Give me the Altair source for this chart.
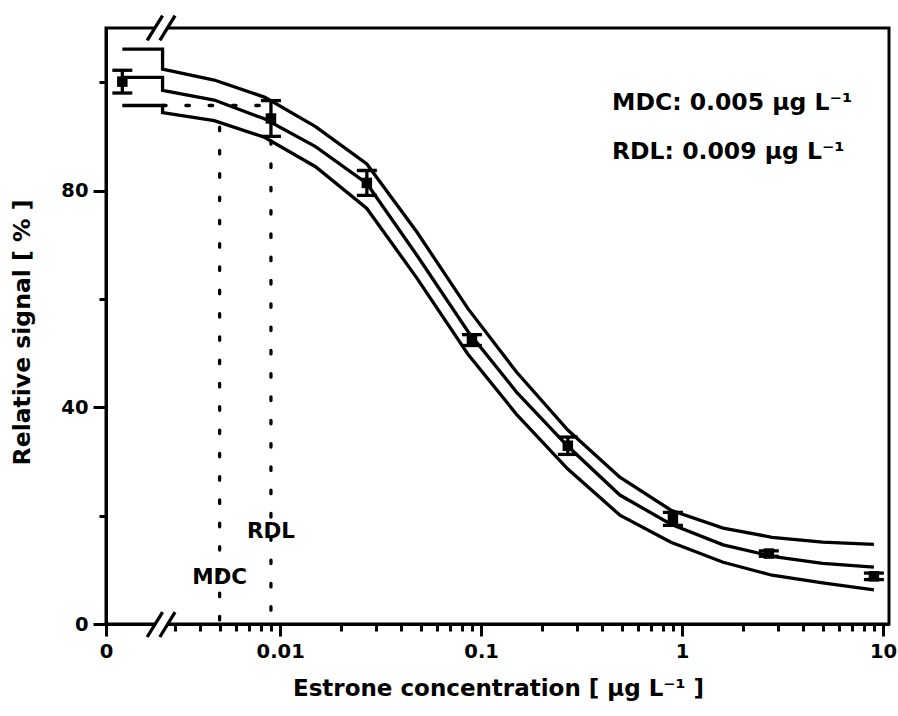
import altair as alt
import pandas as pd

# Calibration standards: estrone (µg/L), mean relative signal (%), standard deviation
std_conc = [0.0, 0.009, 0.027, 0.09, 0.27, 0.9, 2.7, 9.0]
std_signal = [100.1, 93.3, 81.4, 52.4, 32.9, 19.4, 13.0, 8.8]
std_sd = [2.1, 3.3, 2.3, 1.0, 1.6, 1.2, 0.5, 0.6]

# Fitted calibration curve with its upper and lower confidence band
fit_conc = [0.0026, 0.0047, 0.0084, 0.015, 0.027, 0.048, 0.086, 0.15,
            0.27, 0.49, 0.88, 1.6, 2.8, 5.0, 9.0]
fit_upper = [102.4, 100.4, 97.2, 91.8, 84.9, 72.3, 58.2, 46.5,
             35.8, 27.1, 21.0, 17.7, 16.0, 15.1, 14.7]
fit_mid = [98.5, 96.7, 93.2, 88.1, 81.3, 68.0, 54.0, 42.8,
           32.8, 23.8, 18.4, 14.6, 12.5, 11.2, 10.5]
fit_lower = [94.4, 92.9, 89.8, 84.4, 76.7, 63.8, 49.8, 38.7,
             28.6, 20.1, 15.1, 11.4, 9.0, 7.6, 6.3]
# Levels of the three curves for the blank (zero concentration)
blank_upper, blank_mid, blank_lower = 106.1, 100.9, 95.7

# Detection limits (µg/L) and the lower-band signal where their drop lines start
mdc, rdl = 0.005, 0.009
mdc_top, rdl_top = 91.7, 89.2

# Tick values
x_ticks_major = [0.01, 0.1, 1, 10]
x_ticks_minor = [0.003, 0.004, 0.005, 0.006, 0.007, 0.008, 0.009,
                 0.02, 0.03, 0.04, 0.05, 0.06, 0.07, 0.08, 0.09,
                 0.2, 0.3, 0.4, 0.5, 0.6, 0.7, 0.8, 0.9,
                 2, 3, 4, 5, 6, 7, 8, 9]
y_ticks_major = [0, 40, 80]
y_ticks_minor = [20, 60, 100]

# ---- broken log axis: the left end is labelled "0", the blank sits before the break
X_LO, X_HI = 0.00136, 10.7
BLANK_POS = 0.00164
FONT = "DejaVu Sans"
LW = 3.3

xs = alt.Scale(type="log", domain=[X_LO, X_HI], nice=False)
ys = alt.Scale(domain=[0, 110], nice=False, zero=False)

pts = pd.DataFrame({
    "pos": [BLANK_POS if c == 0 else c for c in std_conc],
    "signal": std_signal,
    "lo": [s - d for s, d in zip(std_signal, std_sd)],
    "hi": [s + d for s, d in zip(std_signal, std_sd)],
})

rows = []
for band, blank, vals in [("upper", blank_upper, fit_upper),
                          ("fit", blank_mid, fit_mid),
                          ("lower", blank_lower, fit_lower)]:
    rows.append({"band": band, "k": 0, "pos": BLANK_POS, "signal": blank})
    rows.append({"band": band, "k": 1, "pos": fit_conc[0], "signal": blank})
    for i, (c, v) in enumerate(zip(fit_conc, vals)):
        rows.append({"band": band, "k": i + 2, "pos": c, "signal": v})
curves = pd.DataFrame(rows)

dotted = pd.DataFrame({
    "x": [fit_conc[0], mdc, rdl],
    "x2": [rdl, mdc, rdl],
    "y": [blank_lower, mdc_top, rdl_top],
    "y2": [blank_lower, 0, 0],
})

labels = pd.DataFrame({"pos": [mdc, rdl], "signal": [8.5, 17.0], "text": ["MDC", "RDL"]})

# axis-break decorations (in axis units)
gaps = pd.DataFrame({"x": [0.00237, 0.00237], "x2": [0.00275, 0.00275], "y": [0, 110]})
slashes = pd.DataFrame({
    "x": [0.00218, 0.00252, 0.00218, 0.00252],
    "x2": [0.0026, 0.0030, 0.0026, 0.0030],
    "y": [-2.4, -2.4, 107.7, 107.7],
    "y2": [2.2, 2.2, 112.3, 112.3],
})

x_major_axis = alt.Axis(
    values=[X_LO] + x_ticks_major,
    labelExpr="datum.value < 0.005 ? '0' : format(datum.value, '~g')",
    orient="bottom", grid=False, tickSize=12, tickWidth=3, tickColor="black",
    domainColor="black", domainWidth=3, labelFont=FONT, labelFontWeight="bold",
    labelFontSize=19.5, labelColor="black", labelPadding=6, labelFlush=False,
    labelOverlap=False, title="Estrone concentration [ µg L⁻¹ ]", titleFont=FONT,
    titleFontWeight="bold", titleFontSize=23, titleColor="black",
    titleX=392, titleY=64, titleAlign="center", titleBaseline="middle",
)
y_major_axis = alt.Axis(
    values=y_ticks_major, orient="left", grid=False, tickSize=13, tickWidth=3,
    tickColor="black", domainColor="black", domainWidth=3, labelFont=FONT,
    labelFontWeight="bold", labelFontSize=19.5, labelColor="black", labelPadding=5,
    title="Relative signal [ % ]", titleFont=FONT, titleFontWeight="bold",
    titleFontSize=23.5, titleColor="black", titleX=-84, titleY=304,
    titleAngle=270, titleAlign="center", titleBaseline="middle",
)
x_minor_axis = alt.Axis(values=x_ticks_minor, orient="bottom", labels=False, domain=False,
                        grid=False, tickSize=7, tickWidth=3, tickColor="black", title="")
y_minor_axis = alt.Axis(values=y_ticks_minor, orient="left", labels=False, domain=False,
                        grid=False, tickSize=7, tickWidth=3, tickColor="black", title="")

curve_layer = alt.Chart(curves).mark_line(color="black", strokeWidth=LW, strokeJoin="miter").encode(
    x=alt.X("pos:Q", scale=xs, axis=x_major_axis),
    y=alt.Y("signal:Q", scale=ys, axis=y_major_axis),
    detail="band:N",
    order="k:Q",
)

dotted_layer = alt.Chart(dotted).mark_rule(
    color="black", strokeWidth=LW, strokeDash=[3.5, 19.8], strokeCap="round"
).encode(
    x=alt.X("x:Q", scale=xs, axis=None), x2="x2:Q",
    y=alt.Y("y:Q", scale=ys, axis=None), y2="y2:Q",
)

err_layer = alt.Chart(pts).mark_rule(color="black", strokeWidth=LW).encode(
    x=alt.X("pos:Q", scale=xs, axis=None),
    y=alt.Y("lo:Q", scale=ys, axis=None), y2="hi:Q",
)

cap_layer = alt.Chart(pts).transform_fold(["lo", "hi"], as_=["end", "v"]).mark_tick(
    color="black", orient="horizontal", size=20, thickness=LW, opacity=1
).encode(
    x=alt.X("pos:Q", scale=xs, axis=None),
    y=alt.Y("v:Q", scale=ys, axis=None),
)

marker_layer = alt.Chart(pts).mark_square(size=110, color="black", opacity=1).encode(
    x=alt.X("pos:Q", scale=xs, axis=x_minor_axis),
    y=alt.Y("signal:Q", scale=ys, axis=y_minor_axis),
)

label_layer = alt.Chart(labels).mark_text(
    font=FONT, fontWeight="bold", fontSize=21.5, color="black", align="center", baseline="middle"
).encode(
    x=alt.X("pos:Q", scale=xs, axis=None),
    y=alt.Y("signal:Q", scale=ys, axis=None),
    text="text:N",
)

note_style = dict(font=FONT, fontWeight="bold", fontSize=23.5, color="black",
                  align="left", baseline="middle")
note_mdc = alt.Chart(pd.DataFrame({"t": [0]})).mark_text(**note_style).encode(
    x=alt.value(506), y=alt.value(75), text=alt.value(f"MDC: {mdc} µg L⁻¹"))
note_rdl = alt.Chart(pd.DataFrame({"t": [0]})).mark_text(**note_style).encode(
    x=alt.value(506), y=alt.value(124), text=alt.value(f"RDL: {rdl} µg L⁻¹"))

gap_layer = alt.Chart(gaps).mark_rule(color="white", strokeWidth=6).encode(
    x=alt.X("x:Q", scale=xs, axis=None), x2="x2:Q",
    y=alt.Y("y:Q", scale=ys, axis=None),
)
slash_layer = alt.Chart(slashes).mark_rule(color="black", strokeWidth=LW).encode(
    x=alt.X("x:Q", scale=xs, axis=None), x2="x2:Q",
    y=alt.Y("y:Q", scale=ys, axis=None), y2="y2:Q",
)

chart = alt.layer(
    curve_layer, dotted_layer, err_layer, cap_layer, marker_layer,
    label_layer, note_mdc, note_rdl, gap_layer, slash_layer,
).resolve_axis(
    x="independent", y="independent"
).properties(
    width=783, height=596,
    padding={"left": 106, "top": 28, "right": 9, "bottom": 92},
    autosize=alt.AutoSizeParams(type="none"),
    background="white",
).configure_view(stroke="black", strokeWidth=3)

chart.save("out.html", embed_options={"renderer": "svg", "actions": False})
